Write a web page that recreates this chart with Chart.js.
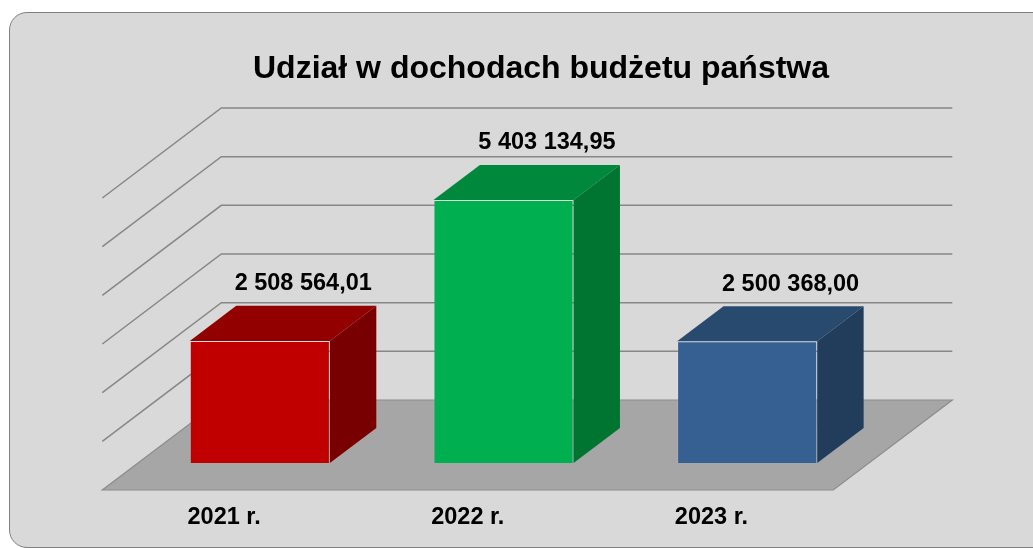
<!DOCTYPE html>
<html lang="pl">
<head>
<meta charset="utf-8">
<title>Udział w dochodach budżetu państwa</title>
<script src="https://cdn.jsdelivr.net/npm/chart.js@4.4.1/dist/chart.umd.min.js"></script>
<style>
  html, body { margin: 0; padding: 0; background: #ffffff; overflow: hidden; }
  #panel {
    position: absolute; left: 9px; top: 12px; width: 1070px; height: 534px;
    background: #d9d9d9; border: 1.5px solid #808080; border-radius: 18px;
  }
  #chart { position: absolute; left: 0; top: 0; }
</style>
</head>
<body>
<div id="panel"></div>
<canvas id="chart" width="1033" height="548"></canvas>
<script>
// chart data
const chartTitle = 'Udział w dochodach budżetu państwa';
const categories = ['2021 r.', '2022 r.', '2023 r.'];
const values = [2508564.01, 5403134.95, 2500368.00];
const valueLabels = ['2 508 564,01', '5 403 134,95', '2 500 368,00'];
const yTicks = [0, 1000000, 2000000, 3000000, 4000000, 5000000, 6000000];

// bar colours: front, top, side
const frontColors = ['#c00000', '#00b050', '#366092'];
const topColors = ['#930000', '#00883d', '#284a6f'];
const sideColors = ['#790000', '#007431', '#223c5c'];

// 3d look: depth of the floor and where the bars stand in it
const depthX = 119;
const depthY = -90;
const barPlane = 0.3;
const barDepth = 0.39;
const FONT = "'Liberation Sans', Arial, sans-serif";

function poly(ctx, pts, fill) {
    ctx.beginPath();
    ctx.moveTo(pts[0][0], pts[0][1]);
    for (let i = 1; i < pts.length; i++) ctx.lineTo(pts[i][0], pts[i][1]);
    ctx.closePath();
    ctx.fillStyle = fill;
    ctx.fill();
}

const wallsPlugin = {
    id: 'walls',
    beforeDatasetsDraw(chart) {
        const ctx = chart.ctx;
        const area = chart.chartArea;
        const yScale = chart.scales.y;
        const fx = -barPlane * depthX, fy = -barPlane * depthY;
        const bx = (1 - barPlane) * depthX, by = (1 - barPlane) * depthY;
        const y0 = yScale.getPixelForValue(0);

        ctx.save();
        // floor
        const floor = [
            [area.left + fx, y0 + fy], [area.right + fx, y0 + fy],
            [area.right + bx, y0 + by], [area.left + bx, y0 + by]
        ];
        poly(ctx, floor, '#a6a6a6');
        ctx.strokeStyle = '#8c8c8c';
        ctx.lineWidth = 1.2;
        ctx.stroke();

        // gridlines on back and side wall
        ctx.strokeStyle = '#878787';
        ctx.lineWidth = 1.5;
        yTicks.forEach(v => {
            if (v === 0) return;
            const y = yScale.getPixelForValue(v);
            ctx.beginPath();
            ctx.moveTo(area.left + fx, y + fy);
            ctx.lineTo(area.left + bx, y + by);
            ctx.lineTo(area.right + bx, y + by);
            ctx.stroke();
        });
        ctx.restore();
    },
    afterDatasetsDraw(chart) {
        const ctx = chart.ctx;
        const meta = chart.getDatasetMeta(0);
        const dx = barDepth * depthX, dy = barDepth * depthY;
        const fx = -barPlane * depthX, fy = -barPlane * depthY;

        ctx.save();
        meta.data.forEach((bar, i) => {
            const l = bar.x - bar.width / 2, r = bar.x + bar.width / 2;
            const t = bar.y, b = bar.base;
            poly(ctx, [[l, t], [r, t], [r + dx, t + dy], [l + dx, t + dy]], topColors[i]);
            poly(ctx, [[r, t], [r + dx, t + dy], [r + dx, b + dy], [r, b]], sideColors[i]);

            ctx.fillStyle = '#000000';
            ctx.textAlign = 'center';
            ctx.textBaseline = 'middle';
            ctx.font = 'bold 23.5px ' + FONT;
            ctx.fillText(valueLabels[i], bar.x + dx - 3, t + dy - 22);
            ctx.fillText(categories[i], bar.x + fx, b + fy + 28);
        });

        ctx.font = 'bold 32px ' + FONT;
        ctx.fillText(chartTitle, 541, 69);
        ctx.restore();
    }
};

const ctx = document.getElementById('chart').getContext('2d');
new Chart(ctx, {
    type: 'bar',
    data: {
        labels: categories,
        datasets: [{
            data: values,
            backgroundColor: frontColors,
            borderColor: 'rgba(255,255,255,0.1)',
            borderWidth: 1,
            categoryPercentage: 1,
            barPercentage: 0.575
        }]
    },
    options: {
        responsive: false,
        animation: false,
        devicePixelRatio: 1,
        layout: { padding: { top: 171, left: 138, right: 164, bottom: 85 } },
        scales: {
            x: { display: false },
            y: { display: false, min: 0, max: 6000000, ticks: { stepSize: 1000000 } }
        },
        plugins: {
            legend: { display: false },
            title: { display: false },
            tooltip: { enabled: false }
        }
    },
    plugins: [wallsPlugin]
});
</script>
</body>
</html>
